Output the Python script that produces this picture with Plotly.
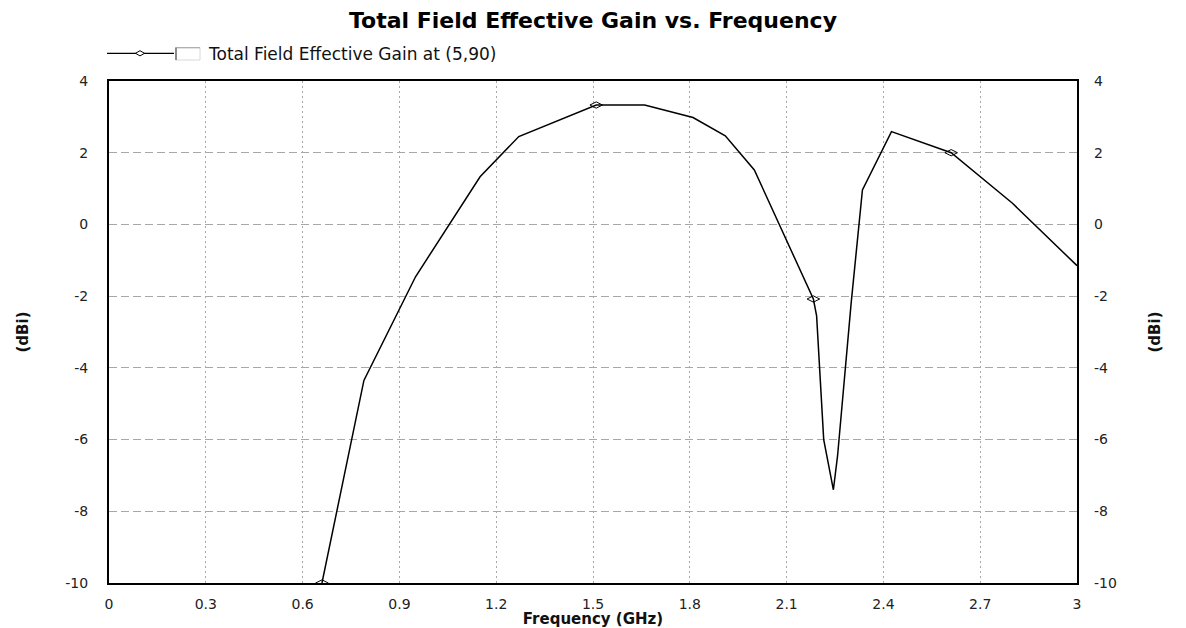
import plotly.graph_objects as go

# ---- data ----
freq_ghz = [0.66, 0.79, 0.95, 1.15, 1.27, 1.51, 1.66, 1.81, 1.91, 2.00,
            2.183, 2.193, 2.215, 2.245, 2.258, 2.30, 2.335, 2.425, 2.61, 2.80, 3.00]
gain_dbi = [-10.0, -4.35, -1.46, 1.33, 2.45, 3.33, 3.33, 2.98, 2.47, 1.52,
            -2.08, -2.55, -6.0, -7.4, -6.45, -2.2, 0.96, 2.59, 2.0, 0.59, -1.15]
marker_idx = [0, 5, 10, 18]          # points carrying a diamond marker

x_tickvals = [0, 0.3, 0.6, 0.9, 1.2, 1.5, 1.8, 2.1, 2.4, 2.7, 3]
x_ticktext = ["0", "0.3", "0.6", "0.9", "1.2", "1.5", "1.8", "2.1", "2.4", "2.7", "3"]
y_tickvals = [-10, -8, -6, -4, -2, 0, 2, 4]
y_ticktext = ["-10", "-8", "-6", "-4", "-2", "0", "2", "4"]

title_text = "Total Field Effective Gain vs. Frequency"
series_name = "Total Field Effective Gain at (5,90)"
x_title = "Frequency (GHz)"
y_title = "(dBi)"

W, H = 1186, 628
ML, MR, MT, MB = 109, 109, 81, 45
plot_w = W - ML - MR
plot_h = H - MT - MB

def px_x(p):
    return (p - ML) / plot_w

def px_y(p):
    return (H - MB - p) / plot_h

FONT = "DejaVu Sans"
fig = go.Figure()

fig.add_trace(go.Scatter(
    x=freq_ghz, y=gain_dbi, mode="lines", name=series_name,
    line=dict(color="black", width=1.5),
    showlegend=False, hoverinfo="x+y"))

fig.add_trace(go.Scatter(
    x=[freq_ghz[i] for i in marker_idx], y=[gain_dbi[i] for i in marker_idx],
    mode="markers",
    marker=dict(symbol="diamond-wide-open", size=9, color="black", line=dict(width=1)),
    showlegend=False, hoverinfo="skip"))

# dummy trace for right axis
fig.add_trace(go.Scatter(x=[None], y=[None], yaxis="y2", showlegend=False, hoverinfo="skip"))

# ---- hand-drawn legend (line + diamond + checkbox + text) ----
LY = 53.3
dx, dy = 4.5, 2.6
cx = 140
diamond = (f"M {px_x(cx - dx)},{px_y(LY)} L {px_x(cx)},{px_y(LY - dy)} "
           f"L {px_x(cx + dx)},{px_y(LY)} L {px_x(cx)},{px_y(LY + dy)} Z")
legend_shapes = [
    dict(type="line", xref="paper", yref="paper",
         x0=px_x(107), x1=px_x(174), y0=px_y(LY), y1=px_y(LY),
         line=dict(color="black", width=1.2)),
    dict(type="path", xref="paper", yref="paper", path=diamond,
         line=dict(color="black", width=1), fillcolor="white"),
    dict(type="rect", xref="paper", yref="paper",
         x0=px_x(175.5), x1=px_x(200), y0=px_y(60), y1=px_y(47.5),
         line=dict(color="#d8d8d8", width=1), fillcolor="white"),
    dict(type="line", xref="paper", yref="paper",
         x0=px_x(176), x1=px_x(176), y0=px_y(60), y1=px_y(47.5),
         line=dict(color="#8a8a8a", width=2)),
    dict(type="line", xref="paper", yref="paper",
         x0=px_x(176), x1=px_x(200), y0=px_y(47.8), y1=px_y(47.8),
         line=dict(color="#a0a0a0", width=1)),
]

fig.update_layout(
    width=W, height=H,
    margin=dict(l=ML, r=MR, t=MT, b=MB, autoexpand=False),
    paper_bgcolor="white", plot_bgcolor="white",
    font=dict(family=FONT, color="#1a1a1a", size=14),
    title=dict(text=title_text, x=0.5, xanchor="center", y=1 - 20 / H, yanchor="middle",
               yref="container",
               font=dict(family=FONT, size=22, weight="bold", color="black")),
    showlegend=False,
    xaxis=dict(range=[0, 3], tickvals=x_tickvals, ticktext=x_ticktext,
               showgrid=True, gridcolor="#a8a8a8", griddash="2px,3px", gridwidth=1,
               showline=True, linecolor="black", linewidth=1.5, mirror=True,
               zeroline=False, ticks="", ticklabelstandoff=7,
               tickfont=dict(size=14, color="#222"),
               title=dict(text=x_title, standoff=0,
                          font=dict(family=FONT, size=15, weight="bold", color="#111")),
               automargin=False),
    yaxis=dict(range=[-10, 4], tickvals=y_tickvals, ticktext=y_ticktext,
               showgrid=True, gridcolor="#a8a8a8", griddash="8px,4px", gridwidth=1,
               showline=True, linecolor="black", linewidth=2, mirror=True,
               zeroline=False, ticks="", ticklabelstandoff=16,
               tickfont=dict(size=14, color="#222"),
               title=dict(text=y_title, standoff=33,
                          font=dict(family=FONT, size=15, weight="bold", color="#111")),
               automargin=False),
    yaxis2=dict(range=[-10, 4], tickvals=y_tickvals, ticktext=y_ticktext,
                overlaying="y", side="right",
                showgrid=False, zeroline=False, showline=False, ticks="",
                ticklabelstandoff=16, tickfont=dict(size=14, color="#222"),
                title=dict(text=y_title, standoff=33,
                           font=dict(family=FONT, size=15, weight="bold", color="#111")),
                automargin=False),
    shapes=legend_shapes,
    annotations=[dict(text=series_name, xref="paper", yref="paper",
                      x=px_x(206), y=px_y(54), xanchor="left", yanchor="middle",
                      showarrow=False,
                      font=dict(family=FONT, size=17, color="#111"))],
)

fig.write_html("out.html", config={"displayModeBar": False},
               post_script="document.body.style.margin='0';")
